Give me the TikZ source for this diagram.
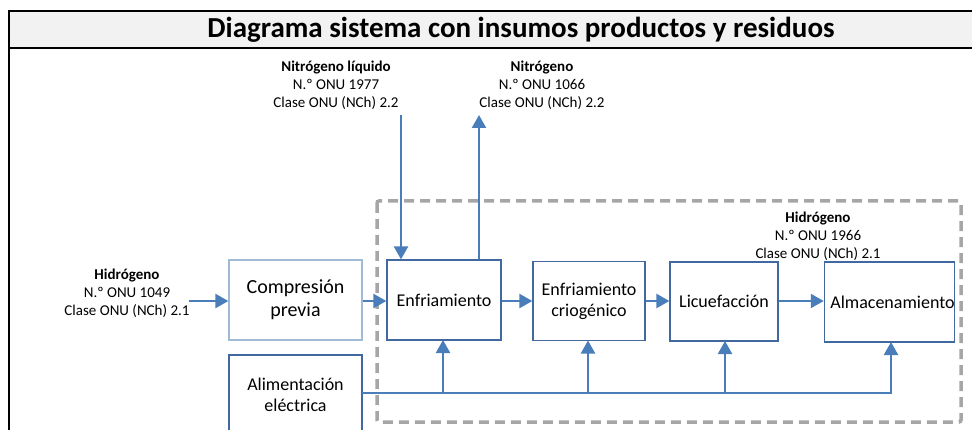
\documentclass[tikz,border=0pt]{standalone}
\usepackage{fontspec}
\setmainfont{Carlito}
\usetikzlibrary{arrows.meta}
\definecolor{flujo}{RGB}{74,126,187}
\definecolor{borde}{RGB}{65,105,160}
\definecolor{bordeclaro}{RGB}{160,185,215}
\definecolor{guion}{RGB}{166,166,166}
\definecolor{titulo}{RGB}{242,242,242}

\begin{document}
\begin{tikzpicture}[x=1pt,y=-1pt,
		caja/.style={draw=borde,line width=1.2pt,align=center,inner sep=0pt,
			font=\fontsize{18}{21}\selectfont},
		etiqueta/.style={align=center,inner sep=0pt,font=\fontsize{15}{18}\selectfont},
		flecha/.style={draw=flujo,line width=2.3pt,-{Triangle[length=13pt,width=14pt]}},
		linea/.style={draw=flujo,line width=2.3pt}]
		\useasboundingbox (0,0) rectangle (972,430);
		% marco y titulo
		\draw[line width=2.2pt,fill=titulo] (985,11) -- (9,11) -- (9,48) -- (985,48);
		\draw[line width=2.2pt] (9,48) -- (9,440);
		\node[font=\fontsize{29}{32}\selectfont\bfseries] (tit) at (521,30)
			{Diagrama sistema con insumos productos y residuos};
		% limite del sistema
		\draw[guion,line width=3.5pt,dash pattern=on 10pt off 6pt,rounded corners=2pt]
			(377,201) rectangle (961,422);
		% cajas
		\node[caja,draw=bordeclaro,minimum width=133pt,minimum height=80pt,
			font=\fontsize{20}{23}\selectfont] (comp) at (295.5,300) {Compresión\\previa};
		\node[caja,minimum width=133pt,minimum height=80pt] (alim) at (295.5,395)
			{Alimentación\\eléctrica};
		\node[caja,minimum width=114pt,minimum height=80pt] (enf) at (444,300) {Enfriamiento};
		\node[caja,minimum width=112pt,minimum height=79pt] (crio) at (589,301)
			{Enfriamiento\\criogénico};
		\node[caja,minimum width=108pt,minimum height=79pt] (licu) at (724,301.5) {Licuefacción};
		\node[caja,minimum width=129pt,minimum height=80pt] (alma)
			at (889.5,302) {\hspace*{6pt}Almacenamiento};
		% etiquetas
		\node[etiqueta] (h2in) at (127,293)
			{\textbf{Hidrógeno}\\N.º ONU 1049\\Clase ONU (NCh) 2.1};
		\node[etiqueta] (n2liq) at (336,85)
			{\textbf{Nitrógeno líquido}\\N.º ONU 1977\\Clase ONU (NCh) 2.2};
		\node[etiqueta] (n2) at (542,85)
			{\textbf{Nitrógeno}\\N.º ONU 1066\\Clase ONU (NCh) 2.2};
		\node[etiqueta] (h2out) at (818,236)
			{\textbf{Hidrógeno}\\N.º ONU 1966\\Clase ONU (NCh) 2.1};
		\coordinate (h2a) at (189,301);
		\coordinate (nin) at (401,115);
		\coordinate (nout) at (479,115);
		\coordinate (red) at (362,393);
		% flujos
		\draw[flecha] (h2a) -- (comp.west |- h2a);
		\draw[flecha] (comp.east |- h2a) -- (enf.west |- h2a);
		\draw[flecha] (enf.east |- h2a) -- (crio.west |- h2a);
		\draw[flecha] (crio.east |- h2a) -- (licu.west |- h2a);
		\draw[flecha] (licu.east |- h2a) -- (alma.west |- h2a);
		\draw[flecha] (nin) -- (nin |- enf.north);
		\draw[flecha] (nout |- enf.north) -- (nout);
		% alimentacion
		\draw[linea] (red) -- (891,393);
		\draw[flecha] (443,393) -- (443,340);
		\draw[flecha] (588,393) -- (588,340.5);
		\draw[flecha] (725,393) -- (725,341);
		\draw[flecha] (891,394.15) -- (891,342);
	\end{tikzpicture}
\end{document}
